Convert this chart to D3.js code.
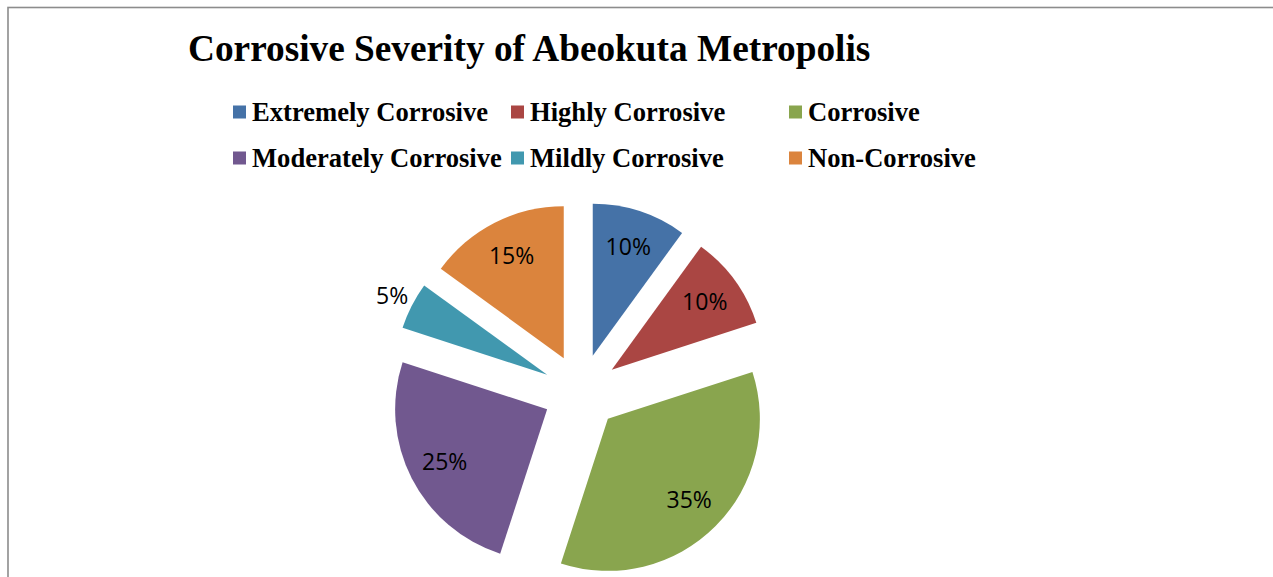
<!DOCTYPE html>
<html>
<head>
<meta charset="utf-8">
<script src="https://cdn.jsdelivr.net/npm/d3@7"></script>
<style>
html,body{margin:0;padding:0;background:#fff;}
svg{display:block;}
</style>
</head>
<body>
<svg id="chart" width="1273" height="577"></svg>
<script>
const categories = ["Extremely Corrosive","Highly Corrosive","Corrosive","Moderately Corrosive","Mildly Corrosive","Non-Corrosive"];
const values = [10, 10, 35, 25, 5, 15];
const colors = ["#4572A7","#AA4643","#89A54E","#71588F","#4198AF","#DB843D"];
const titleText = "Corrosive Severity of Abeokuta Metropolis";

const svg = d3.select("#chart");

// frame
svg.append("rect").attr("x", 8).attr("y", 7.5).attr("width", 1300).attr("height", 700)
  .attr("fill", "none").attr("stroke", "#8c8c8c").attr("stroke-width", 1.6);

// title
svg.append("text").attr("x", 188).attr("y", 61)
  .attr("font-family", "'Liberation Serif','Times New Roman',serif")
  .attr("font-weight", "bold").attr("font-size", 37.3)
  .attr("fill", "#000").text(titleText);

// legend
const colX = [233, 511, 789];
const rowY = [112, 158];
const leg = svg.append("g");
categories.forEach((c, i) => {
  const x = colX[i % 3], y = rowY[Math.floor(i / 3)];
  leg.append("rect").attr("x", x).attr("y", y - 6.5).attr("width", 13).attr("height", 13).attr("fill", colors[i]);
  leg.append("text").attr("x", x + 19).attr("y", y + 8.5)
    .attr("font-family", "'Liberation Serif','Times New Roman',serif")
    .attr("font-weight", "bold").attr("font-size", 26.6).attr("fill", "#000").text(c);
});

// pie
const cx = 581, cy = 392, r = 152, explode = 38;
const pie = d3.pie().sort(null).value(d => d);
const arcs = pie(values);
const arc = d3.arc().innerRadius(0).outerRadius(r);
const total = d3.sum(values);
const g = svg.append("g").attr("transform", `translate(${cx},${cy})`);
arcs.forEach((a, i) => {
  const mid = (a.startAngle + a.endAngle) / 2;
  const dx = Math.sin(mid) * explode, dy = -Math.cos(mid) * explode;
  const sg = g.append("g").attr("transform", `translate(${dx},${dy})`);
  sg.append("path").attr("d", arc(a)).attr("fill", colors[i]);
  const small = values[i] / total < 0.08;
  const lr = small ? r + 22 : 115;
  sg.append("text")
    .attr("x", Math.sin(mid) * lr).attr("y", -Math.cos(mid) * lr)
    .attr("dy", "0.36em").attr("text-anchor", "middle")
    .attr("font-family", "'Open Sans','Noto Sans',sans-serif")
    .attr("font-size", 23).attr("fill", "#000")
    .text(Math.round(values[i] / total * 100) + "%");
});
</script>
</body>
</html>
